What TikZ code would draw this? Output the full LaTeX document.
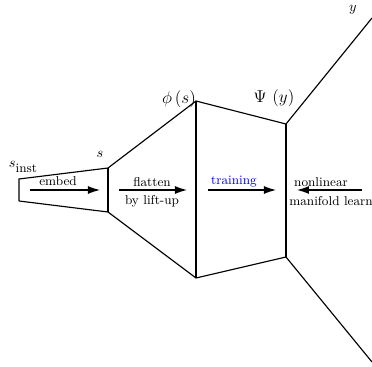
\documentclass[tikz,border=0pt]{standalone}
\usetikzlibrary{arrows.meta}
\begin{document}
\begin{tikzpicture}[x=0.7pt,y=-0.7pt,
  edge/.style={line width=0.8pt},
  flow/.style={line width=0.8pt,-{Latex[length=8.4pt,width=5.6pt]}},
  lab/.style={font=\small,inner sep=0pt},
  mlab/.style={inner sep=0pt}]
\useasboundingbox (0,0) rectangle (372,367);
% corners
\coordinate (a1) at (19,179);
\coordinate (a2) at (19,201);
\coordinate (b1) at (108,168);
\coordinate (b2) at (108,212);
\coordinate (c1) at (196,101);
\coordinate (c2) at (196,278);
\coordinate (d1) at (286,124);
\coordinate (d2) at (286,257);
\coordinate (e1) at (372,18);
\coordinate (e2) at (372,362);
% outline
\draw[edge] (a2) -- (a1) -- (b1) -- (c1) -- (d1) -- (e1);
\draw[edge] (a2) -- (b2) -- (c2) -- (d2) -- (e2);
\draw[edge] (b1) -- (b2);
\draw[edge] (c1) -- (c2);
\draw[edge] (d1) -- (d2);
% arrows
\coordinate (p1) at (30,190);  \coordinate (q1) at (100,190);
\coordinate (p2) at (119,190); \coordinate (q2) at (187,190);
\coordinate (p3) at (208,190); \coordinate (q3) at (276,190);
\coordinate (p4) at (362,190); \coordinate (q4) at (297,190);
\draw[flow] (p1) -- (q1);
\draw[flow] (p2) -- (q2);
\draw[flow] (p3) -- (q3);
\draw[flow] (p4) -- (q4);
% labels
\node[lab] (tembed) at (58,181) {embed};
\node[lab] (tflat) at (152,182) {flatten};
\node[lab] (tlift) at (152,201) {by lift-up};
\node[lab,text=blue] (ttrain) at (234,182) {training};
\node[lab] (tnon) at (321,182) {nonlinear};
\node[lab] (tman) at (331,201) {manifold learn};
\node[mlab] (tsinst) at (23,167) {$s$\raisebox{-0.7ex}{\small inst}};
\node[mlab] (ts) at (100,154) {$s$};
\node[mlab,font=\large] (tphi) at (179,99) {$\phi\left(s\right)$};
\node[mlab,font=\large] (tpsi) at (274,98) {$\Psi\,\left(y\right)$};
\node[mlab] (ty) at (353,10) {$y$};
\end{tikzpicture}
\end{document}
